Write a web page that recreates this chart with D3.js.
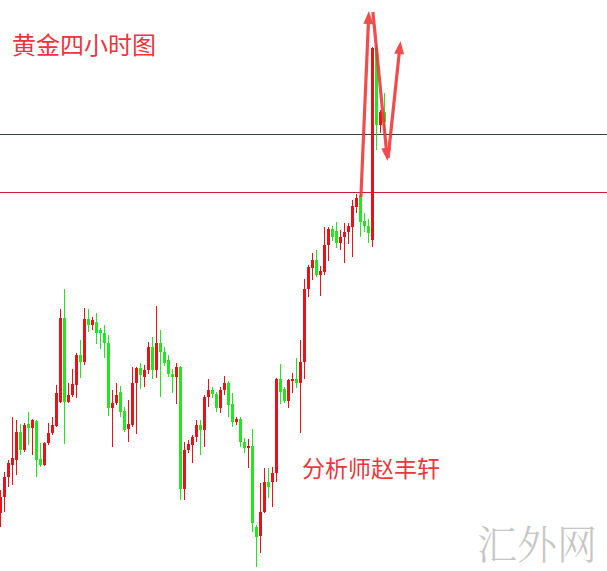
<!DOCTYPE html>
<html><head><meta charset="utf-8">
<script src="https://cdn.jsdelivr.net/npm/d3@7"></script>
<style>html,body{margin:0;padding:0;background:#fff;overflow:hidden;} svg{display:block;}</style>
</head><body><div id="chart"></div>
<script>
// 4-hour gold candles (price units, arbitrary scale)
const openP  = [87,103,123,135,140,168,150,176,172,179,141,135,157,167,174,198,282,198,205,215,245,238,281,275,278,270,267,257,192,197,208,189,171,175,217,232,223,230,253,230,257,248,240,226,223,233,111,150,155,163,175,170,203,210,206,192,210,217,196,178,181,158,152,154,73,64,88,118,118,127,221,211,199,219,221,217,238,311,332,340,325,328,355,371,369,357,363,368,373,393,404,379,374,360,552,475,488];
const highP  = [110,128,140,183,180,176,177,188,181,180,157,158,177,183,215,291,311,217,231,247,260,292,291,283,287,272,275,265,210,217,214,193,200,233,233,237,235,258,263,294,270,253,245,231,237,234,158,160,165,180,180,205,221,213,208,213,224,219,207,183,183,162,161,171,75,117,132,132,133,222,236,213,221,227,242,260,321,335,347,350,334,373,373,374,378,370,377,377,400,406,407,387,381,553,557,490,507];
const lowP   = [73,88,113,115,125,145,148,155,145,123,133,134,155,165,173,197,156,197,203,202,222,235,268,270,256,251,242,184,153,195,183,168,158,173,166,211,213,226,221,222,203,234,223,207,196,100,100,147,137,158,145,153,193,202,188,187,205,183,173,175,153,147,132,68,33,47,87,102,93,118,196,197,192,207,212,167,221,303,320,323,304,325,339,359,352,350,337,356,343,387,363,368,357,353,450,467,467];
const closeP = [103,123,137,142,168,150,175,172,180,140,135,157,167,175,207,282,198,205,216,245,238,281,275,280,267,267,257,192,197,205,188,170,176,217,232,225,230,253,230,257,248,237,226,223,233,111,150,156,163,175,170,203,210,206,192,210,217,195,178,181,158,152,154,77,63,88,118,113,127,221,208,199,220,221,217,238,311,333,340,325,329,355,371,363,357,363,368,374,394,402,378,374,367,552,475,488,478];

// horizontal levels
const levels = [
  {price: 466, color: "#34423c"},
  {price: 408, color: "#c4203a"}
];
// analyst arrows: [startIndex, startPrice] -> [tipIndex, tipPrice]
const arrowStarts = [[90.1, 403], [93.1, 588], [96.9, 442]];
const arrowTips   = [[92.1, 589], [96.75, 439], [100.0, 559]];

const titleText = "黄金四小时图";
const authorText = "分析师赵丰轩";
const watermarkText = "汇外网";

const W = 607, H = 571;
const RED = "#e5141b", GREEN = "#22e622";

const svg = d3.select("#chart").append("svg").attr("width", W).attr("height", H);
svg.append("rect").attr("width", W).attr("height", H).attr("fill", "#fff");

const x = d3.scaleLinear().domain([0, 1]).range([0.5, 4.5]);
const y = d3.scaleLinear().domain([0, 600]).range([600, 0]);

const data = openP.map((o, i) => ({i, o, h: highP[i], l: lowP[i], c: closeP[i]}));

// level lines
svg.selectAll("line.level").data(levels).join("line")
  .attr("class", "level")
  .attr("x1", 0).attr("x2", W)
  .attr("y1", d => Math.round(y(d.price)) + 0.5)
  .attr("y2", d => Math.round(y(d.price)) + 0.5)
  .attr("stroke", d => d.color).attr("stroke-width", 1);

const g = svg.append("g").attr("shape-rendering", "crispEdges");
const cg = g.selectAll("g.c").data(data).join("g").attr("class", "c");
cg.append("line")
  .attr("x1", d => x(d.i)).attr("x2", d => x(d.i))
  .attr("y1", d => y(d.h)).attr("y2", d => y(d.l))
  .attr("stroke", d => d.c >= d.o ? RED : GREEN).attr("stroke-width", 1);
cg.append("rect")
  .attr("x", d => x(d.i) - 1.5).attr("width", 3)
  .attr("y", d => y(Math.max(d.o, d.c)))
  .attr("height", d => Math.max(1, Math.abs(y(d.o) - y(d.c))))
  .attr("fill", d => d.c >= d.o ? RED : GREEN);

// arrows
const ag = svg.append("g").attr("opacity", 0.88);
arrowStarts.forEach((s, k) => {
  const t = arrowTips[k];
  const x0 = x(s[0]), y0 = y(s[1]), x1 = x(t[0]), y1 = y(t[1]);
  const dx = x1 - x0, dy = y1 - y0, len = Math.hypot(dx, dy);
  const ux = dx / len, uy = dy / len, px = -uy, py = ux;
  const headL = 13, headW = 5;
  const bx = x1 - ux * headL, by = y1 - uy * headL;
  ag.append("line").attr("x1", x0).attr("y1", y0).attr("x2", bx + ux * 2).attr("y2", by + uy * 2)
    .attr("stroke", "#ee3434").attr("stroke-width", 3.2);
  ag.append("path")
    .attr("d", `M${x1},${y1}L${bx + px * headW},${by + py * headW}L${bx - px * headW},${by - py * headW}Z`)
    .attr("fill", "#ee3434");
});

const font = "'Noto Sans CJK SC', 'Noto Sans', sans-serif";
svg.append("text").attr("x", 12).attr("y", 43).attr("dominant-baseline", "central")
  .attr("font-family", font).attr("font-size", 24).attr("fill", "#e8373e").text(titleText);
svg.append("text").attr("x", 302).attr("y", 467).attr("dominant-baseline", "central")
  .attr("font-family", font).attr("font-size", 23).attr("fill", "#e8373e").text(authorText);
svg.append("text").attr("x", 477).attr("y", 541).attr("dominant-baseline", "central")
  .attr("font-family", "'Noto Serif CJK SC', 'Noto Sans CJK SC', serif").attr("font-size", 40).attr("font-weight", 300).attr("fill", "#c6c6c6").text(watermarkText);
</script>
</body></html>
